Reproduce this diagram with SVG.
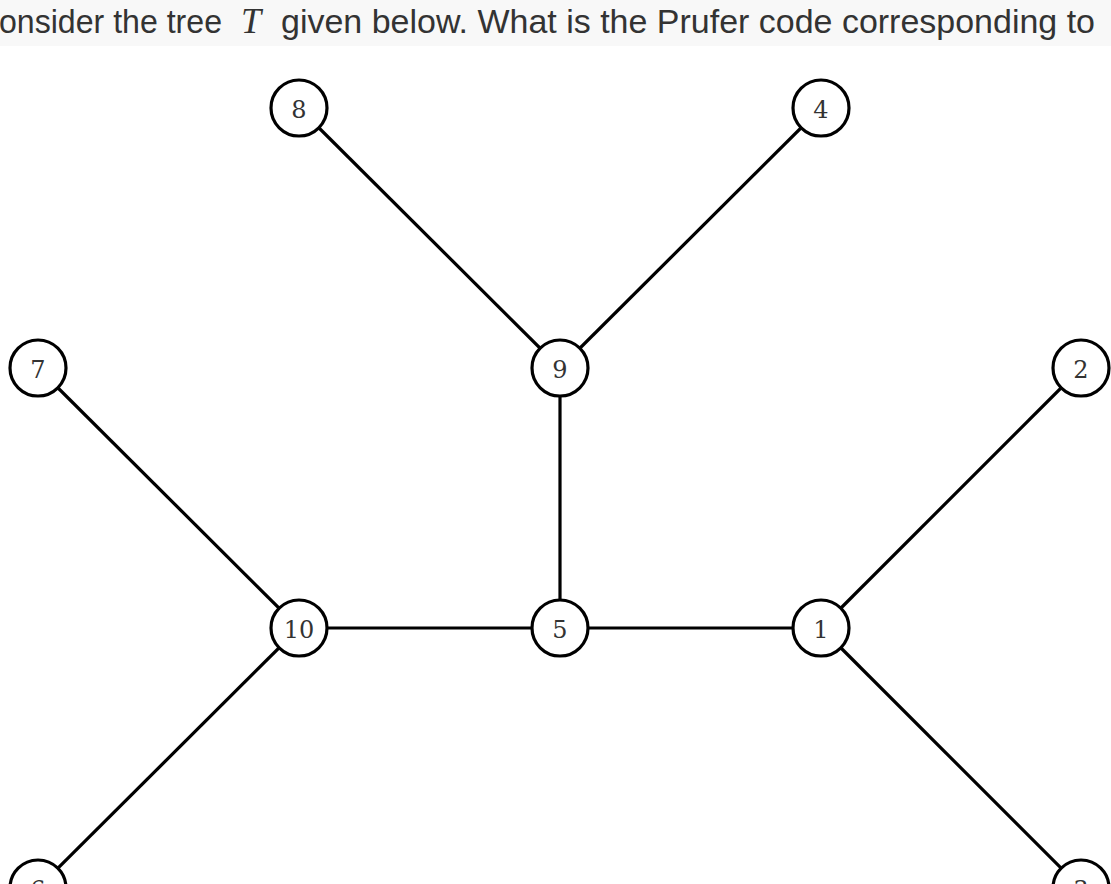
<svg xmlns="http://www.w3.org/2000/svg" width="1111" height="884" viewBox="0 0 1111 884">
  <style>
    .edge { stroke: #000; stroke-width: 3.2; fill: none; }
    .node circle { fill: #fff; stroke: #000; stroke-width: 3.2; }
    .node text { font-family: "DejaVu Serif", "Liberation Serif", serif; font-size: 24px; fill: #333; text-anchor: middle; dominant-baseline: central; }
    .q { font-family: "Liberation Sans", Arial, sans-serif; font-size: 34px; fill: #333; }
    .math { font-family: "Liberation Serif", serif; font-style: italic; font-size: 36px; fill: #333; }
  </style>
  <rect x="0" y="0" width="1111" height="884" fill="#fff"/>
  <rect x="0" y="0" width="1111" height="46" fill="#f8f8f8"/>
  <!-- question line above the tree -->
  <text class="q" x="-1" y="33" textLength="223" lengthAdjust="spacingAndGlyphs">onsider the tree</text>
  <text class="math" x="241" y="33">T</text>
  <text class="q" x="281" y="33" textLength="814" lengthAdjust="spacingAndGlyphs">given below. What is the Prufer code corresponding to</text>

  <g id="edges">
    <line class="edge" x1="299" y1="108" x2="560" y2="368"/>
    <line class="edge" x1="821" y1="108" x2="560" y2="368"/>
    <line class="edge" x1="560" y1="368" x2="560" y2="628"/>
    <line class="edge" x1="38" y1="368" x2="299" y2="628"/>
    <line class="edge" x1="1081" y1="368" x2="821" y2="628"/>
    <line class="edge" x1="299" y1="628" x2="560" y2="628"/>
    <line class="edge" x1="560" y1="628" x2="821" y2="628"/>
    <line class="edge" x1="299" y1="628" x2="38" y2="888"/>
    <line class="edge" x1="821" y1="628" x2="1081" y2="888"/>
  </g>

  <g id="n8" class="node"><circle cx="299" cy="108" r="28"/><text x="299" y="110">8</text></g>
  <g id="n4" class="node"><circle cx="821" cy="108" r="28"/><text x="821" y="110">4</text></g>
  <g id="n7" class="node"><circle cx="38" cy="368" r="28"/><text x="38" y="370">7</text></g>
  <g id="n9" class="node"><circle cx="560" cy="368" r="28"/><text x="560" y="370">9</text></g>
  <g id="n2" class="node"><circle cx="1081" cy="368" r="28"/><text x="1081" y="370">2</text></g>
  <g id="n10" class="node"><circle cx="299" cy="628" r="28"/><text x="299" y="630">10</text></g>
  <g id="n5" class="node"><circle cx="560" cy="628" r="28"/><text x="560" y="630">5</text></g>
  <g id="n1" class="node"><circle cx="821" cy="628" r="28"/><text x="821" y="630">1</text></g>
  <g id="n6" class="node"><circle cx="38" cy="888" r="28"/><text x="38" y="890">6</text></g>
  <g id="n3" class="node"><circle cx="1081" cy="888" r="28"/><text x="1081" y="890">3</text></g>
</svg>
